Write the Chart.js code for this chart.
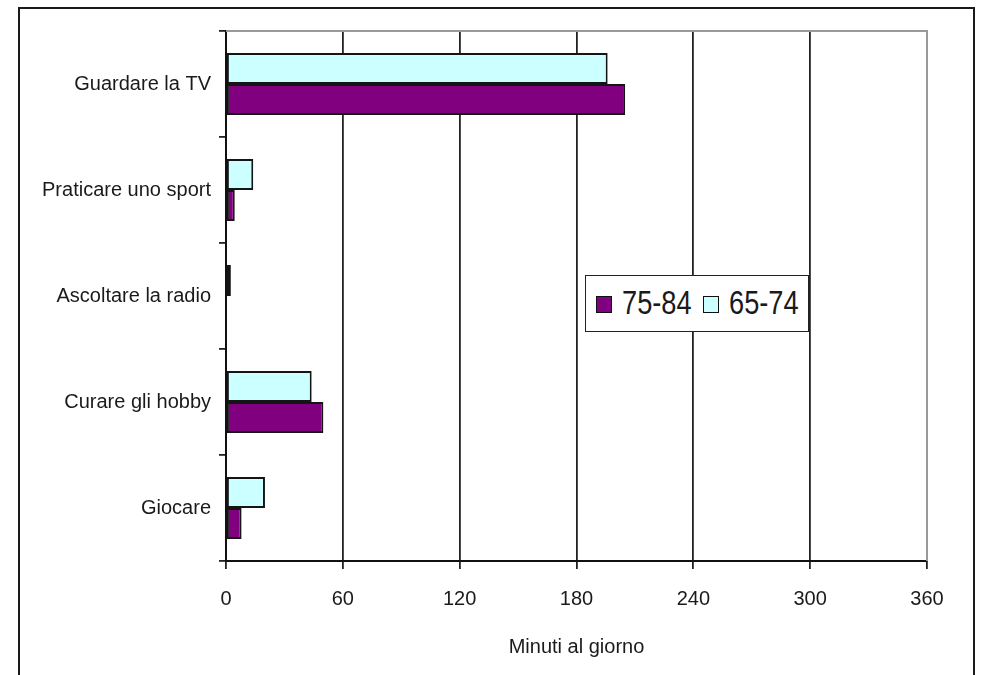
<!DOCTYPE html>
<html>
<head>
<meta charset="utf-8">
<script src="https://cdn.jsdelivr.net/npm/chart.js@4"></script>
<style>
  html, body { margin: 0; padding: 0; background: #fff; overflow: hidden; }
  #wrap { position: relative; width: 983px; height: 675px; }
  #frame { position: absolute; left: 18px; top: 7px; width: 957px; height: 720px;
           border: 2px solid #1a1a1a; box-sizing: border-box; pointer-events: none; }
  #legend { position: absolute; left: 585px; top: 275px; width: 224px; height: 57px;
            border: 1.5px solid #222; background: #fff; box-sizing: border-box; }
  .sw { position: absolute; width: 16px; height: 17px; border: 1.5px solid #111; box-sizing: border-box; }
  .lt { position: absolute; font-family: "Liberation Sans", Arial, sans-serif; font-size: 34px;
        line-height: 34px; color: #1a1a1a; transform: scaleX(0.8); transform-origin: left top; white-space: nowrap; }
</style>
</head>
<body>
<div id="wrap">
  <canvas id="chart" width="983" height="675"></canvas>
  <div id="frame"></div>
  <div id="legend"></div>
</div>
<script>
// data (minutes per day)
const categories = ['Guardare la TV', 'Praticare uno sport', 'Ascoltare la radio', 'Curare gli hobby', 'Giocare'];
const age65_74 = [196, 14, 2.5, 44, 20];
const age75_84 = [205, 4.5, 0, 50, 8];
const xTicks = [0, 60, 120, 180, 240, 300, 360];
const seriesLabels = ['65-74', '75-84'];
const seriesColors = ['#CCFFFF', '#800080'];

const FONT = { family: '"Liberation Sans", Arial, sans-serif', size: 20 };

// gray frame on top and right of the plot area
const plotFrame = {
  id: 'plotFrame',
  beforeDatasetsDraw(chart) {
    const { ctx, chartArea: a } = chart;
    ctx.save();
    ctx.strokeStyle = '#9a9a9a';
    ctx.lineWidth = 2;
    ctx.beginPath();
    ctx.moveTo(a.left, a.top);
    ctx.lineTo(a.right, a.top);
    ctx.lineTo(a.right, a.bottom);
    ctx.stroke();
    ctx.restore();
  }
};

new Chart(document.getElementById('chart').getContext('2d'), {
  type: 'bar',
  data: {
    labels: categories,
    datasets: [
      { label: seriesLabels[0], data: age65_74, backgroundColor: seriesColors[0] },
      { label: seriesLabels[1], data: age75_84, backgroundColor: seriesColors[1] }
    ]
  },
  options: {
    indexAxis: 'y',
    responsive: false,
    animation: false,
    layout: { padding: { left: 0, right: 56, top: 31, bottom: 16 } },
    datasets: {
      bar: { categoryPercentage: 0.585, barPercentage: 1.0, borderWidth: 2,
             borderColor: '#151515', borderSkipped: false }
    },
    plugins: { legend: { display: false }, tooltip: { enabled: false } },
    scales: {
      x: {
        min: 0, max: 360,
        afterBuildTicks: s => { s.ticks = xTicks.map(v => ({ value: v })); },
        afterFit: s => { s.height = 675 - 16 - 561; },
        grid: {
          color: c => (c.tick && c.tick.value === 360) ? '#9a9a9a' : '#222',
          lineWidth: 1.8, tickLength: 8, tickColor: '#222'
        },
        border: { color: '#111', width: 2 },
        ticks: { color: '#1a1a1a', font: FONT, padding: 18, maxRotation: 0 },
        title: { display: true, text: 'Minuti al giorno', color: '#1a1a1a', font: FONT, padding: 0 }
      },
      y: {
        afterFit: s => { s.width = 226; },
        grid: { drawOnChartArea: false, tickLength: 7, tickColor: '#222', lineWidth: 1.8 },
        border: { color: '#111', width: 2 },
        ticks: { color: '#1a1a1a', font: FONT, padding: 8 }
      }
    }
  },
  plugins: [plotFrame]
});

// legend box inside the plot (order as in the picture: 75-84 first)
const legend = document.getElementById('legend');
const items = [
  { label: seriesLabels[1], color: seriesColors[1], sw: 10, tx: 36 },
  { label: seriesLabels[0], color: seriesColors[0], sw: 117, tx: 143 }
];
items.forEach(it => {
  const sw = document.createElement('div');
  sw.className = 'sw';
  sw.style.left = it.sw + 'px';
  sw.style.top = '20px';
  sw.style.background = it.color;
  legend.appendChild(sw);
  const t = document.createElement('span');
  t.className = 'lt';
  t.style.left = it.tx + 'px';
  t.style.top = '9px';
  t.textContent = it.label;
  legend.appendChild(t);
});
</script>
</body>
</html>
